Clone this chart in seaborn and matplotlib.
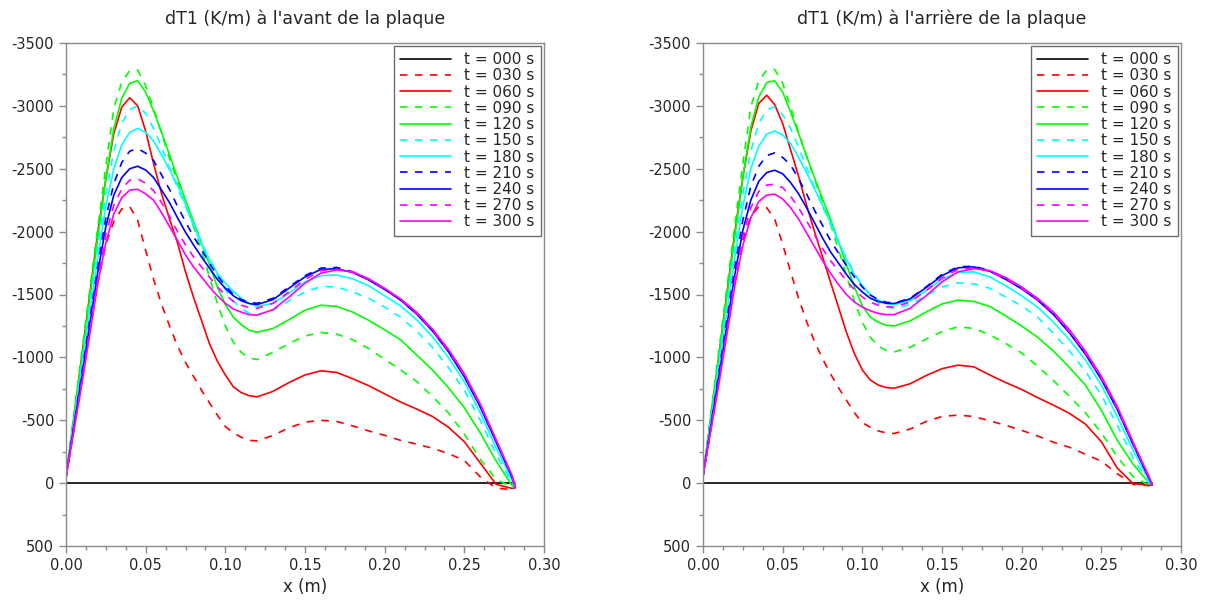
import matplotlib
matplotlib.use("Agg")
import matplotlib.pyplot as plt
import matplotlib.ticker as ticker
import pandas as pd
import seaborn as sns

# x positions (m) shared by all curves
X_M = [0.0, 0.01, 0.02, 0.025, 0.03, 0.035, 0.04, 0.045, 0.05, 0.055,
       0.06, 0.065, 0.07, 0.075, 0.08, 0.085, 0.09, 0.095, 0.10, 0.105,
       0.11, 0.115, 0.12, 0.13, 0.14, 0.15, 0.16, 0.17, 0.18, 0.19,
       0.20, 0.21, 0.22, 0.23, 0.24, 0.25, 0.26, 0.27, 0.28, 0.282]

LABELS = ["t = 000 s", "t = 030 s", "t = 060 s", "t = 090 s", "t = 120 s",
          "t = 150 s", "t = 180 s", "t = 210 s", "t = 240 s", "t = 270 s",
          "t = 300 s"]
COLORS = ["#000000", "#ff0000", "#ff0000", "#00ff00", "#00ff00", "#00ffff",
          "#00ffff", "#0000ff", "#0000ff", "#ff00ff", "#ff00ff"]
DASHED = [False, True, False, True, False, True, False, True, False, True, False]

# dT1 (K/m), front of the plate
AVANT_000 = [0.0] * 40
AVANT_030 = [-40, -820, -1600, -1900, -2080, -2180, -2200, -2090, -1850, -1620,
             -1420, -1250, -1090, -960, -850, -740, -640, -540, -450, -400,
             -365, -340, -336, -380, -440, -485, -500, -490, -455, -415,
             -380, -340, -310, -278, -235, -180, -50, 40, 52, 35]
AVANT_060 = [-40, -1020, -2000, -2420, -2780, -2990, -3065, -3000, -2800, -2540,
             -2300, -2100, -1910, -1680, -1480, -1295, -1110, -970, -860, -766,
             -720, -695, -686, -730, -800, -860, -893, -880, -830, -775,
             -710, -645, -590, -530, -445, -330, -160, 10, 42, 35]
AVANT_090 = [-50, -1050, -2040, -2520, -2980, -3190, -3280, -3285, -3160, -2980,
             -2780, -2580, -2400, -2220, -2040, -1850, -1640, -1430, -1250, -1120,
             -1040, -995, -983, -1040, -1110, -1170, -1198, -1185, -1140, -1070,
             -985, -900, -810, -690, -560, -390, -190, -30, 30, 30]
AVANT_120 = [-45, -1000, -1960, -2420, -2820, -3060, -3180, -3200, -3110, -2960,
             -2790, -2610, -2430, -2250, -2080, -1910, -1740, -1560, -1420, -1320,
             -1260, -1215, -1200, -1230, -1300, -1375, -1415, -1405, -1360, -1295,
             -1220, -1140, -1020, -900, -760, -600, -400, -175, 20, 35]
AVANT_150 = [-45, -960, -1880, -2300, -2640, -2860, -2970, -3000, -2940, -2820,
             -2670, -2510, -2350, -2200, -2060, -1920, -1780, -1650, -1540, -1450,
             -1390, -1350, -1337, -1375, -1450, -1520, -1563, -1560, -1520, -1470,
             -1400, -1320, -1210, -1080, -920, -740, -500, -230, 0, 35]
AVANT_180 = [-45, -920, -1800, -2200, -2500, -2690, -2790, -2820, -2790, -2720,
             -2610, -2490, -2370, -2220, -2050, -1900, -1780, -1670, -1590, -1525,
             -1470, -1430, -1405, -1430, -1510, -1600, -1650, -1655, -1625, -1570,
             -1490, -1410, -1300, -1165, -1000, -805, -560, -280, -20, 35]
AVANT_210 = [-50, -880, -1730, -2110, -2380, -2550, -2640, -2660, -2625, -2565,
             -2450, -2335, -2200, -2080, -1960, -1860, -1750, -1650, -1570, -1500,
             -1460, -1437, -1430, -1470, -1560, -1650, -1710, -1715, -1680, -1620,
             -1545, -1460, -1350, -1215, -1050, -850, -610, -330, -50, 35]
AVANT_240 = [-50, -850, -1680, -2040, -2290, -2430, -2500, -2520, -2490, -2430,
             -2330, -2230, -2110, -1995, -1895, -1800, -1710, -1620, -1550, -1490,
             -1450, -1428, -1420, -1460, -1550, -1640, -1700, -1705, -1675, -1615,
             -1540, -1455, -1345, -1210, -1045, -845, -605, -325, -45, 35]
AVANT_270 = [-50, -820, -1630, -1980, -2210, -2340, -2410, -2420, -2385, -2325,
             -2230, -2120, -2000, -1895, -1800, -1720, -1640, -1560, -1500, -1445,
             -1415, -1395, -1390, -1430, -1520, -1620, -1690, -1700, -1675, -1620,
             -1545, -1460, -1350, -1215, -1055, -860, -620, -340, -55, 35]
AVANT_300 = [-50, -790, -1590, -1910, -2140, -2270, -2330, -2337, -2300, -2250,
             -2150, -2040, -1930, -1815, -1720, -1640, -1560, -1490, -1430, -1385,
             -1360, -1340, -1336, -1380, -1480, -1590, -1670, -1695, -1680, -1625,
             -1550, -1465, -1360, -1225, -1065, -870, -630, -345, -60, 35]

# dT1 (K/m), back of the plate
ARRIERE_000 = [0.0] * 40
ARRIERE_030 = [-50, -830, -1620, -1930, -2120, -2200, -2190, -2100, -1900, -1680,
               -1470, -1285, -1125, -990, -870, -760, -660, -560, -480, -445,
               -415, -400, -395, -430, -490, -530, -541, -530, -495, -460,
               -420, -375, -325, -285, -230, -175, -75, 10, 20, 15]
ARRIERE_060 = [-50, -1020, -2000, -2430, -2800, -3020, -3085, -3010, -2860, -2650,
               -2440, -2210, -2000, -1800, -1600, -1400, -1200, -1030, -900, -820,
               -780, -760, -755, -790, -855, -910, -938, -925, -860, -800,
               -745, -680, -620, -555, -470, -330, -120, 5, 16, 16]
ARRIERE_090 = [-55, -1060, -2050, -2540, -2990, -3200, -3285, -3290, -3180, -2990,
               -2790, -2600, -2420, -2240, -2060, -1860, -1650, -1450, -1280, -1160,
               -1090, -1055, -1044, -1080, -1145, -1205, -1243, -1230, -1180, -1110,
               -1035, -930, -815, -690, -560, -400, -210, -50, 16, 16]
ARRIERE_120 = [-55, -1010, -1970, -2430, -2830, -3070, -3185, -3200, -3110, -2950,
               -2780, -2600, -2430, -2260, -2100, -1920, -1740, -1560, -1410, -1320,
               -1280, -1255, -1250, -1290, -1360, -1425, -1455, -1445, -1405, -1330,
               -1250, -1160, -1050, -920, -780, -580, -340, -150, 0, 16]
ARRIERE_150 = [-55, -970, -1880, -2300, -2640, -2860, -2970, -2992, -2930, -2820,
               -2670, -2510, -2350, -2200, -2060, -1920, -1790, -1670, -1570, -1490,
               -1430, -1400, -1390, -1420, -1490, -1560, -1593, -1585, -1550, -1480,
               -1410, -1320, -1190, -1050, -890, -700, -460, -200, 0, 16]
ARRIERE_180 = [-55, -930, -1800, -2200, -2500, -2680, -2775, -2800, -2770, -2700,
               -2590, -2470, -2340, -2210, -2070, -1920, -1780, -1660, -1570, -1500,
               -1455, -1430, -1420, -1450, -1530, -1620, -1675, -1680, -1640, -1570,
               -1490, -1400, -1280, -1140, -980, -780, -530, -260, -20, 16]
ARRIERE_210 = [-55, -880, -1720, -2090, -2360, -2520, -2605, -2626, -2590, -2530,
               -2420, -2300, -2170, -2050, -1930, -1830, -1730, -1640, -1560, -1495,
               -1460, -1438, -1432, -1470, -1560, -1660, -1720, -1725, -1690, -1625,
               -1550, -1460, -1345, -1200, -1030, -830, -590, -310, -40, 16]
ARRIERE_240 = [-55, -850, -1660, -2010, -2250, -2400, -2470, -2488, -2460, -2390,
               -2300, -2190, -2070, -1950, -1840, -1750, -1660, -1580, -1520, -1470,
               -1445, -1430, -1428, -1465, -1555, -1650, -1712, -1720, -1685, -1620,
               -1545, -1455, -1340, -1195, -1025, -825, -585, -305, -35, 16]
ARRIERE_270 = [-55, -820, -1620, -1960, -2190, -2320, -2370, -2377, -2350, -2280,
               -2190, -2085, -1975, -1865, -1770, -1690, -1610, -1540, -1480, -1440,
               -1415, -1403, -1400, -1440, -1530, -1630, -1700, -1712, -1685, -1625,
               -1550, -1460, -1350, -1205, -1035, -835, -595, -315, -45, 16]
ARRIERE_300 = [-55, -790, -1570, -1890, -2110, -2240, -2290, -2298, -2260, -2190,
               -2100, -1990, -1880, -1770, -1670, -1580, -1500, -1440, -1400, -1370,
               -1350, -1340, -1340, -1390, -1490, -1600, -1680, -1705, -1690, -1635,
               -1560, -1470, -1360, -1220, -1050, -850, -610, -325, -50, 16]

AVANT = [AVANT_000, AVANT_030, AVANT_060, AVANT_090, AVANT_120, AVANT_150,
         AVANT_180, AVANT_210, AVANT_240, AVANT_270, AVANT_300]
ARRIERE = [ARRIERE_000, ARRIERE_030, ARRIERE_060, ARRIERE_090, ARRIERE_120,
           ARRIERE_150, ARRIERE_180, ARRIERE_210, ARRIERE_240, ARRIERE_270,
           ARRIERE_300]

sns.set_style("white")
plt.rcParams["font.family"] = ["DejaVu Sans"]
plt.rcParams["axes.unicode_minus"] = False
plt.rcParams["lines.linewidth"] = 1.2

SPINE_GREY = "#8c8c8c"


def long_table(curves) -> pd.DataFrame:
    frames = []
    for label, values in zip(LABELS, curves):
        frames.append(pd.DataFrame({"x": X_M, "dT1": values, "t": label}))
    return pd.concat(frames, ignore_index=True)


def draw_panel(ax, curves, title: str) -> None:
    df = long_table(curves)
    sns.lineplot(
        data=df,
        x="x",
        y="dT1",
        hue="t",
        style="t",
        palette=dict(zip(LABELS, COLORS)),
        dashes={lab: ((4.5, 4.5) if d else "") for lab, d in zip(LABELS, DASHED)},
        estimator=None,
        sort=False,
        linewidth=1.2,
        ax=ax,
    )
    # y axis is reversed: -3500 on top
    ax.set_xlim(0.0, 0.30)
    ax.set_ylim(500, -3500)
    ax.xaxis.set_major_locator(ticker.MultipleLocator(0.05))
    ax.xaxis.set_minor_locator(ticker.MultipleLocator(0.0125))
    ax.xaxis.set_major_formatter(ticker.FormatStrFormatter("%.2f"))
    ax.yaxis.set_major_locator(ticker.MultipleLocator(500))
    ax.yaxis.set_minor_locator(ticker.MultipleLocator(250))
    ax.yaxis.set_major_formatter(ticker.FormatStrFormatter("%d"))
    ax.tick_params(which="major", direction="out", length=5, width=1,
                   color=SPINE_GREY, labelsize=10.5, bottom=True, left=True)
    ax.tick_params(which="minor", direction="out", length=3, width=1,
                   color=SPINE_GREY, bottom=True, left=True)
    for spine in ax.spines.values():
        spine.set_visible(True)
        spine.set_color(SPINE_GREY)
        spine.set_linewidth(1.0)
    ax.set_xlabel("x (m)", fontsize=12)
    ax.set_ylabel("")
    ax.set_title(title, fontsize=12.5, pad=14)

    old = ax.get_legend()
    handles = old.legend_handles
    labels = [t.get_text() for t in old.get_texts()]
    legend = ax.legend(
        handles,
        labels,
        loc="upper right",
        borderaxespad=0.2,
        fontsize=11,
        handlelength=3.3,
        handletextpad=0.9,
        labelspacing=0.08,
        borderpad=0.4,
        frameon=True,
        fancybox=False,
        framealpha=1,
        edgecolor="#6e6e6e",
    )
    legend.get_frame().set_linewidth(1.0)


fig = plt.figure(figsize=(12.06, 6.03), dpi=100)
ax_left = fig.add_axes([66 / 1206, 57 / 603, 478 / 1206, 503 / 603])
ax_right = fig.add_axes([703 / 1206, 57 / 603, 478 / 1206, 503 / 603])

draw_panel(ax_left, AVANT, "dT1 (K/m) à l'avant de la plaque")
draw_panel(ax_right, ARRIERE, "dT1 (K/m) à l'arrière de la plaque")

fig.savefig("out.png", dpi=100)
